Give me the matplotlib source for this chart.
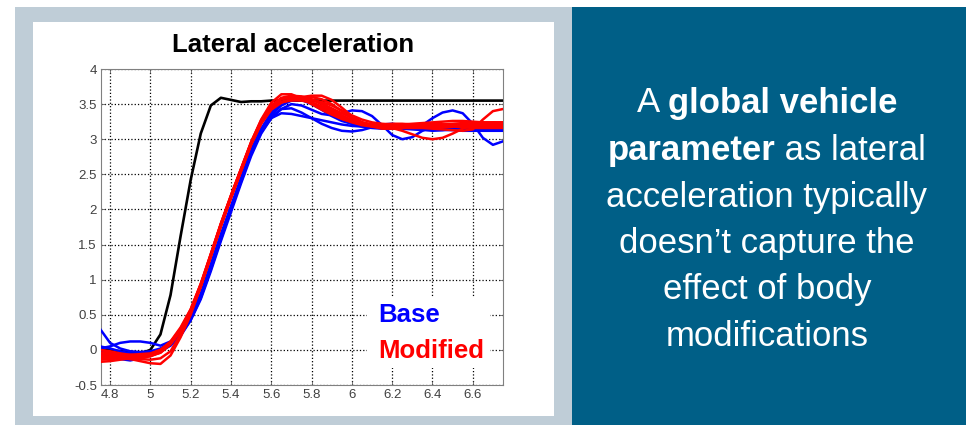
import matplotlib
matplotlib.use("Agg")
import matplotlib.pyplot as plt
from matplotlib.patches import Rectangle

plt.rcParams['font.family'] = ['Liberation Sans', 'DejaVu Sans']

# time axis (s)
t = [4.75, 4.80, 4.85, 4.90, 4.95, 5.00, 5.05, 5.10, 5.15, 5.20, 5.25, 5.30, 5.35, 5.40,
     5.45, 5.50, 5.55, 5.60, 5.65, 5.70, 5.75, 5.80, 5.85, 5.90, 5.95, 6.00, 6.05, 6.10,
     6.15, 6.20, 6.25, 6.30, 6.35, 6.40, 6.45, 6.50, 6.55, 6.60, 6.65, 6.70, 6.75]

# target / reference response
target = [0.00, 0.00, -0.02, -0.03, -0.05, 0.00, 0.22, 0.78, 1.62, 2.42, 3.08, 3.48, 3.59, 3.56,
          3.53, 3.54, 3.54, 3.55, 3.55, 3.55, 3.55, 3.55, 3.55, 3.55, 3.55, 3.55, 3.55, 3.55,
          3.55, 3.55, 3.55, 3.55, 3.55, 3.55, 3.55, 3.55, 3.55, 3.55, 3.55, 3.55, 3.55]

base_runs = [
    [0.30, 0.10, 0.02, -0.02, -0.03, -0.02, 0.02, 0.10, 0.25, 0.48, 0.80, 1.22, 1.65, 2.05,
     2.45, 2.85, 3.15, 3.38, 3.52, 3.57, 3.57, 3.52, 3.45, 3.36, 3.28, 3.22, 3.18, 3.16,
     3.15, 3.15, 3.16, 3.16, 3.15, 3.14, 3.14, 3.15, 3.15, 3.14, 3.14, 3.13, 3.13],
    [0.02, 0.05, 0.10, 0.12, 0.12, 0.10, 0.06, 0.12, 0.24, 0.45, 0.76, 1.15, 1.58, 2.00,
     2.40, 2.80, 3.10, 3.30, 3.37, 3.36, 3.33, 3.30, 3.27, 3.24, 3.21, 3.19, 3.18, 3.17,
     3.17, 3.16, 3.15, 3.14, 3.13, 3.13, 3.13, 3.13, 3.12, 3.12, 3.12, 3.12, 3.12],
    [-0.05, -0.08, -0.13, -0.15, -0.12, -0.07, -0.02, 0.06, 0.20, 0.42, 0.72, 1.12, 1.55, 1.96,
     2.37, 2.76, 3.08, 3.30, 3.43, 3.50, 3.48, 3.42, 3.36, 3.34, 3.37, 3.41, 3.40, 3.33,
     3.20, 3.06, 3.00, 3.03, 3.12, 3.18, 3.20, 3.20, 3.19, 3.18, 3.17, 3.17, 3.17],
    [0.05, 0.02, -0.02, -0.05, -0.06, -0.04, 0.00, 0.08, 0.22, 0.44, 0.75, 1.16, 1.60, 2.02,
     2.43, 2.82, 3.13, 3.35, 3.48, 3.55, 3.56, 3.50, 3.42, 3.33, 3.26, 3.22, 3.20, 3.19,
     3.18, 3.17, 3.16, 3.15, 3.20, 3.30, 3.38, 3.41, 3.37, 3.22, 3.02, 2.92, 2.97],
    [-0.02, -0.04, -0.06, -0.08, -0.08, -0.05, -0.01, 0.07, 0.21, 0.43, 0.74, 1.15, 1.58, 2.00,
     2.40, 2.80, 3.10, 3.32, 3.43, 3.44, 3.38, 3.30, 3.22, 3.16, 3.12, 3.11, 3.13, 3.17,
     3.21, 3.22, 3.20, 3.17, 3.14, 3.12, 3.13, 3.15, 3.17, 3.18, 3.18, 3.17, 3.16],
]

modified_runs = [
    [-0.17, -0.16, -0.14, -0.12, -0.10, -0.08, -0.04, 0.08, 0.28, 0.55, 0.92, 1.36, 1.80, 2.20,
     2.58, 2.96, 3.28, 3.52, 3.64, 3.64, 3.58, 3.50, 3.42, 3.35, 3.29, 3.25, 3.22, 3.20,
     3.19, 3.19, 3.20, 3.21, 3.21, 3.20, 3.19, 3.19, 3.20, 3.21, 3.21, 3.20, 3.20],
    [-0.05, -0.07, -0.10, -0.13, -0.16, -0.19, -0.20, -0.08, 0.18, 0.50, 0.90, 1.33, 1.76, 2.16,
     2.54, 2.92, 3.22, 3.42, 3.52, 3.57, 3.60, 3.62, 3.62, 3.56, 3.45, 3.33, 3.24, 3.18,
     3.15, 3.15, 3.17, 3.20, 3.22, 3.22, 3.21, 3.20, 3.19, 3.19, 3.20, 3.21, 3.21],
    [-0.10, -0.09, -0.08, -0.07, -0.06, -0.05, 0.00, 0.12, 0.32, 0.58, 0.94, 1.36, 1.79, 2.19,
     2.57, 2.94, 3.24, 3.44, 3.53, 3.57, 3.59, 3.60, 3.57, 3.50, 3.40, 3.30, 3.24, 3.21,
     3.19, 3.16, 3.12, 3.07, 3.02, 3.00, 3.02, 3.08, 3.15, 3.20, 3.23, 3.24, 3.24],
    [0.00, -0.02, -0.05, -0.07, -0.08, -0.06, 0.00, 0.11, 0.30, 0.57, 0.93, 1.35, 1.78, 2.18,
     2.56, 2.94, 3.25, 3.46, 3.57, 3.60, 3.58, 3.53, 3.45, 3.36, 3.29, 3.24, 3.20, 3.18,
     3.17, 3.16, 3.16, 3.16, 3.16, 3.15, 3.14, 3.13, 3.12, 3.14, 3.28, 3.40, 3.43],
    [-0.12, -0.12, -0.11, -0.10, -0.09, -0.06, -0.01, 0.10, 0.29, 0.56, 0.91, 1.34, 1.77, 2.17,
     2.55, 2.93, 3.23, 3.43, 3.53, 3.56, 3.55, 3.52, 3.47, 3.40, 3.32, 3.26, 3.22, 3.21,
     3.21, 3.22, 3.22, 3.21, 3.20, 3.20, 3.21, 3.22, 3.23, 3.24, 3.24, 3.24, 3.24],
    [0.00, -0.03, -0.06, -0.09, -0.10, -0.09, -0.04, 0.08, 0.27, 0.54, 0.90, 1.33, 1.77, 2.17,
     2.55, 2.93, 3.24, 3.46, 3.58, 3.61, 3.60, 3.56, 3.50, 3.42, 3.34, 3.27, 3.22, 3.19,
     3.18, 3.18, 3.19, 3.20, 3.21, 3.22, 3.21, 3.20, 3.18, 3.17, 3.17, 3.18, 3.18],
    [-0.08, -0.10, -0.12, -0.13, -0.12, -0.09, -0.03, 0.09, 0.28, 0.55, 0.91, 1.34, 1.77, 2.18,
     2.56, 2.94, 3.24, 3.44, 3.53, 3.55, 3.56, 3.56, 3.53, 3.48, 3.41, 3.34, 3.28, 3.24,
     3.22, 3.21, 3.21, 3.22, 3.23, 3.24, 3.25, 3.26, 3.26, 3.25, 3.24, 3.23, 3.22],
    [-0.04, -0.05, -0.07, -0.08, -0.08, -0.06, -0.02, 0.10, 0.30, 0.57, 0.94, 1.37, 1.80, 2.20,
     2.58, 2.96, 3.27, 3.48, 3.59, 3.62, 3.61, 3.57, 3.51, 3.44, 3.37, 3.30, 3.24, 3.20,
     3.17, 3.16, 3.16, 3.17, 3.18, 3.19, 3.19, 3.18, 3.17, 3.16, 3.16, 3.16, 3.16],
    [-0.14, -0.13, -0.12, -0.12, -0.13, -0.14, -0.12, -0.02, 0.22, 0.53, 0.91, 1.35, 1.79, 2.19,
     2.57, 2.95, 3.26, 3.47, 3.58, 3.60, 3.57, 3.51, 3.44, 3.37, 3.31, 3.26, 3.23, 3.21,
     3.20, 3.20, 3.20, 3.19, 3.18, 3.17, 3.17, 3.18, 3.20, 3.22, 3.23, 3.23, 3.22],
]

xticks = [4.8, 5.0, 5.2, 5.4, 5.6, 5.8, 6.0, 6.2, 6.4, 6.6]
xticklabels = ['4.8', '5', '5.2', '5.4', '5.6', '5.8', '6', '6.2', '6.4', '6.6']
yticks = [-0.5, 0, 0.5, 1, 1.5, 2, 2.5, 3, 3.5, 4]
yticklabels = ['-0.5', '0', '0.5', '1', '1.5', '2', '2.5', '3', '3.5', '4']

text_lines = [
    [('A ', 'normal'), ('global vehicle', 'bold')],
    [('parameter', 'bold'), (' as lateral', 'normal')],
    [('acceleration typically', 'normal')],
    [('doesn\u2019t capture the', 'normal')],
    [('effect of body', 'normal')],
    [('modifications', 'normal')],
]

W, H = 966, 425
fig = plt.figure(figsize=(W / 100, H / 100), dpi=100)

# background panels
fig.patches.append(Rectangle((15 / W, 0), 557 / W, 418 / H, transform=fig.transFigure,
                             facecolor='#BFCDD7', edgecolor='none', zorder=-3))
fig.patches.append(Rectangle((33 / W, 9 / H), 521 / W, 394 / H, transform=fig.transFigure,
                             facecolor='white', edgecolor='none', zorder=-2))
fig.patches.append(Rectangle((572 / W, 0), 394 / W, 418 / H, transform=fig.transFigure,
                             facecolor='#005F87', edgecolor='none', zorder=-3))

ax = fig.add_axes([101 / W, 40 / H, 402 / W, 316 / H])
ax.set_zorder(1)
ax.plot(t, target, color='black', lw=1.9, zorder=3)
for run in base_runs:
    ax.plot(t, run, color='#0000FF', lw=1.8, zorder=4)
for run in modified_runs:
    ax.plot(t, run, color='#FF0000', lw=1.8, zorder=5)

ax.set_xlim(4.755, 6.75)
ax.set_ylim(-0.5, 4)
ax.set_xticks(xticks)
ax.set_xticklabels(xticklabels)
ax.set_yticks(yticks)
ax.set_yticklabels(yticklabels)
ax.grid(True, color='black', linestyle=':', linewidth=0.9)
ax.tick_params(direction='in', length=3, width=0.6, top=True, right=True,
               labelsize=9.5, labelcolor='#404040', color='#606060', pad=3)
for sp in ax.spines.values():
    sp.set_color('#808080')
    sp.set_linewidth(0.8)

# legend-like labels on a white patch
ax.add_patch(Rectangle((0.662, 0.054), 0.306, 0.221, transform=ax.transAxes,
                       facecolor='white', edgecolor='none', zorder=6))
ax.text(0.69, 0.222, 'Base', transform=ax.transAxes, color='#0000FF',
        fontsize=18.5, fontweight='bold', va='center', ha='left', zorder=7)
ax.text(0.69, 0.108, 'Modified', transform=ax.transAxes, color='#FF0000',
        fontsize=18.5, fontweight='bold', va='center', ha='left', zorder=7)

fig.text(293 / W, 1 - 45 / H, 'Lateral acceleration', fontsize=18.5, fontweight='bold',
         ha='center', va='center')

# right panel text, centred line by line
renderer = fig.canvas.get_renderer()
cx = 767
line_y = [103, 150, 197, 243, 290, 337]
for parts, ly in zip(text_lines, line_y):
    items = []
    for s, wgt in parts:
        tx = fig.text(0, 1 - ly / H, s, fontsize=25, fontweight=wgt, color='white',
                      ha='left', va='center')
        items.append(tx)
    widths = [it.get_window_extent(renderer).width for it in items]
    x = cx - sum(widths) / 2
    for it, w in zip(items, widths):
        it.set_x(x / W)
        x += w

fig.savefig('out.png', dpi=100)
